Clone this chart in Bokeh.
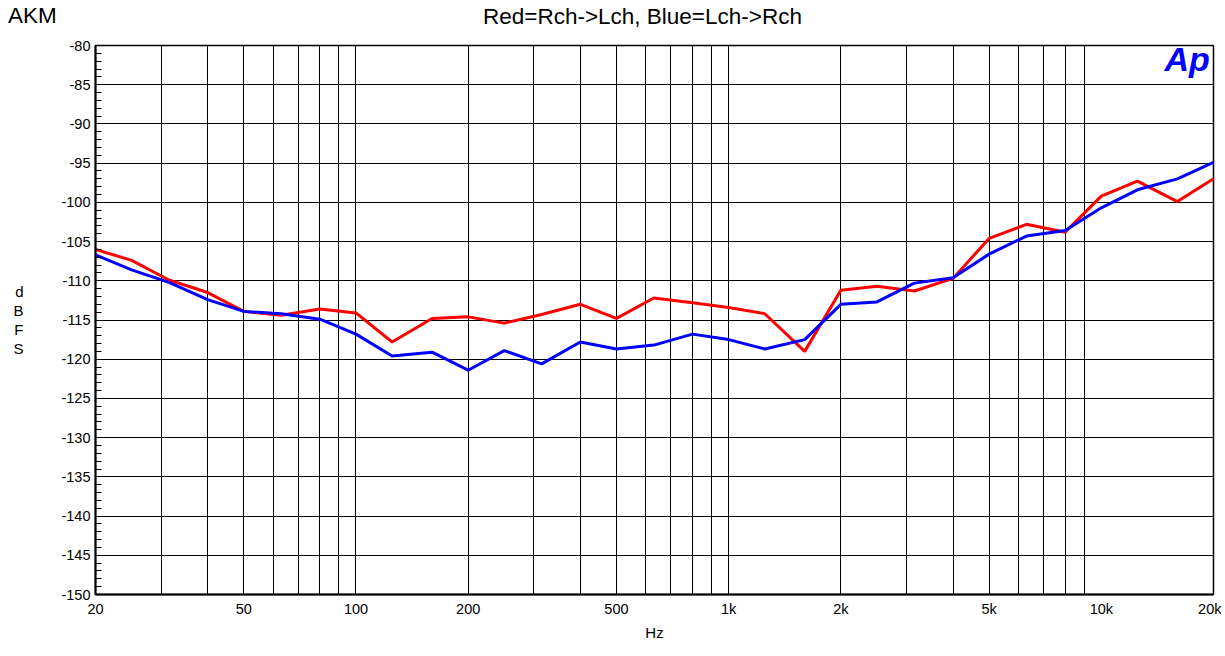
from bokeh.plotting import figure
from bokeh.models import Range1d, FixedTicker, CustomJSTickFormatter, Label, ColumnDataSource, Div
from bokeh.layouts import column
from bokeh.embed import file_html
from bokeh.resources import INLINE

# ---- data (1/3-octave frequencies, dBFS) ----
freqs = [20, 25, 31.5, 40, 50, 63, 80, 100, 125, 160, 200, 250, 315, 400, 500, 630,
         800, 1000, 1250, 1600, 2000, 2500, 3150, 4000, 5000, 6300, 8000, 10000,
         12500, 16000, 20000]
red_rch_to_lch = [-106.0, -107.4, -109.9, -111.5, -113.9, -114.4, -113.6, -114.1, -117.8,
                  -114.8, -114.6, -115.4, -114.3, -113.0, -114.8, -112.2, -112.8, -113.4,
                  -114.2, -119.0, -111.2, -110.7, -111.3, -109.7, -104.6, -102.8, -103.8,
                  -99.2, -97.3, -99.9, -97.0]
blue_lch_to_rch = [-106.7, -108.6, -110.2, -112.4, -113.9, -114.2, -114.9, -116.8, -119.6,
                   -119.1, -121.4, -118.9, -120.6, -117.8, -118.7, -118.2, -116.8, -117.5,
                   -118.7, -117.5, -113.0, -112.7, -110.3, -109.6, -106.6, -104.3, -103.6,
                   -100.7, -98.4, -97.0, -94.9]
x_tick_values = [20, 50, 100, 200, 500, 1000, 2000, 5000, 10000, 20000]
y_tick_values = list(range(-150, -79, 5))
y_minor_values = list(range(-150, -79, 1))
title_text = "Red=Rch->Lch, Blue=Lch->Rch"
corner_text = "AKM"
x_label = "Hz"
y_label = "d\nB\nF\nS"
logo_text = "Ap"

FONT = "Liberation Sans"

p = figure(x_axis_type="log", x_range=Range1d(20, 20000), y_range=Range1d(-150, -80),
           frame_width=1118, frame_height=549,
           min_border_left=95, min_border_right=8, min_border_top=12, min_border_bottom=55,
           output_backend="svg", toolbar_location=None, background_fill_color="white",
           border_fill_color="white", margin=0)

# grid
grid_x = [m * 10 ** e for e in (1, 2, 3) for m in range(1, 10) if 20 <= m * 10 ** e <= 20000] + [20000]
p.xgrid.ticker = FixedTicker(ticks=grid_x)
p.ygrid.ticker = FixedTicker(ticks=y_tick_values)
for g in (p.xgrid, p.ygrid):
    g.grid_line_color = "black"
    g.grid_line_width = 1
    g.grid_line_alpha = 1.0

p.outline_line_color = "black"
p.outline_line_width = 1.5

# x axis
xa = p.xaxis[0]
xa.ticker = FixedTicker(ticks=x_tick_values)
xa.formatter = CustomJSTickFormatter(code="return tick >= 1000 ? (tick/1000) + 'k' : tick.toString();")
xa.major_tick_in = 0
xa.major_tick_out = 0
xa.minor_tick_line_color = None
xa.axis_line_color = "black"
xa.axis_line_width = 2
xa.major_label_standoff = 6
xa.major_label_text_font = FONT
xa.major_label_text_font_size = "14.5px"
xa.major_label_text_color = "black"
xa.axis_label = x_label
xa.axis_label_text_font = FONT
xa.axis_label_text_font_size = "15px"
xa.axis_label_text_font_style = "normal"
xa.axis_label_text_color = "black"
xa.axis_label_standoff = 4

# y axis
ya = p.yaxis[0]
ya.ticker = FixedTicker(ticks=y_tick_values, minor_ticks=y_minor_values)
ya.formatter = CustomJSTickFormatter(code="return tick.toFixed(0);")
ya.major_tick_in = 0
ya.major_tick_out = 0
ya.minor_tick_in = 6
ya.minor_tick_out = 0
ya.minor_tick_line_color = "black"
ya.minor_tick_line_width = 1
ya.axis_line_color = "black"
ya.axis_line_width = 2
ya.major_label_standoff = 5
ya.major_label_text_font = FONT
ya.major_label_text_font_size = "14.5px"
ya.major_label_text_color = "black"
ya.axis_label = y_label
ya.axis_label_text_font = FONT
ya.axis_label_text_font_size = "15px"
ya.axis_label_text_font_style = "normal"
ya.axis_label_text_color = "black"
ya.axis_label_text_line_height = 1.1
ya.axis_label_standoff = 35
if "axis_label_orientation" in ya.properties():
    ya.axis_label_orientation = "horizontal"

# data lines
src = ColumnDataSource(dict(f=freqs, red=red_rch_to_lch, blue=blue_lch_to_rch))
p.line("f", "red", source=src, line_color="#FF0000", line_width=3)
p.line("f", "blue", source=src, line_color="#0000FF", line_width=3)

# logo inside the frame
p.add_layout(Label(x=1114.3, y=536, x_units="screen", y_units="screen", text=logo_text,
                   text_font=FONT, text_font_size="34px", text_font_style="bold italic",
                   text_color="#0000FF", text_align="right", text_baseline="alphabetic"))

header = Div(
    text=(
        '<div style="position:relative;width:1221px;height:33px;'
        'font-family:\'Liberation Sans\',Arial,sans-serif;color:black;">'
        '<span style="position:absolute;left:8px;top:4.5px;font-size:22.5px;line-height:22.5px;'
        'white-space:nowrap;">' + corner_text + '</span>'
        '<span style="position:absolute;left:483px;top:6px;font-size:22.5px;line-height:22.5px;'
        'white-space:nowrap;">' + title_text.replace(">", "&gt;") + '</span>'
        '</div>'
    ),
    width=1221, height=33, margin=0,
)

layout = column(header, p, spacing=0, margin=0)
open("out.html", "w").write(file_html(layout, INLINE))
